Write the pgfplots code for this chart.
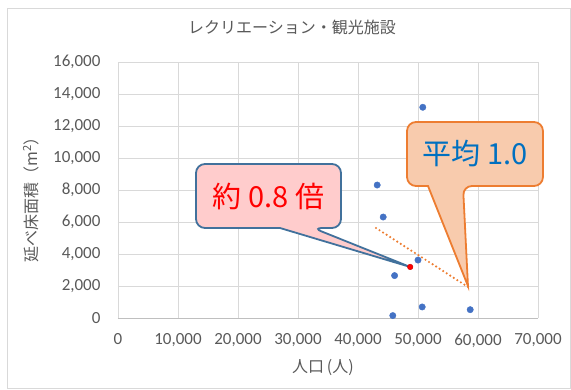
\documentclass[border=0pt]{standalone}
\usepackage{fontspec}
\setmainfont{Carlito}
\newfontfamily\jp{Noto Sans CJK JP}
\usepackage{pgfplots}
\pgfplotsset{compat=1.18}
\definecolor{gridc}{HTML}{D9D9D9}
\definecolor{axc}{HTML}{BFBFBF}
\definecolor{tickc}{HTML}{595959}
\definecolor{blu}{HTML}{4472C4}
\definecolor{org}{HTML}{ED7D31}
\definecolor{boxAf}{HTML}{FFCCCC}
\definecolor{boxAd}{HTML}{41719C}
\definecolor{boxBf}{HTML}{F8CBAD}
\definecolor{txtB}{HTML}{0070C0}
\begin{document}
\begin{tikzpicture}[x=1pt,y=1pt]
\useasboundingbox (-118,-72) rectangle (453,318);
\draw[draw=gridc, line width=0.8pt] (-111,-70) rectangle (452,310);
\node[font=\jp\fontsize{16}{16}\selectfont, text=tickc] at (174,291) {レクリエーション・観光施設};
\node[font=\jp\fontsize{16}{16}\selectfont, text=tickc, rotate=90] at (-87,122) {延べ床面積（m\textsuperscript{2}）};
\node[font=\jp\fontsize{16}{16}\selectfont, text=tickc, anchor=west, inner sep=0pt] at (174,-50) {人口\,(人)};
\begin{axis}[
  at={(0,0)}, anchor=south west, scale only axis,
  width=420pt, height=256pt,
  xmin=0, xmax=70000, ymin=0, ymax=16000,
  xtick={0,10000,...,70000}, ytick={0,2000,...,16000},
  scaled ticks=false,
  /pgf/number format/1000 sep={,},
  /pgf/number format/assume math mode=true,
  grid=major, major grid style={draw=gridc, line width=0.8pt},
  axis line style={draw=none}, tick style={draw=none},
  ticklabel style={font=\fontsize{17}{17}\selectfont, text=tickc},
  xticklabel style={yshift=-12pt},
  yticklabel style={xshift=-14pt},
  clip=false,
]
\draw[axc, line width=0.8pt] (axis cs:0,0) -- (axis cs:70000,0);
\addplot[only marks, mark=*, mark size=3.2pt, mark options={fill=blu, draw=blu}] coordinates {
  (50800,13170) (43200,8310) (44200,6310) (50000,3620) (46100,2650)
  (50700,690) (58700,520) (45800,150)
};
\addplot[org, line width=2.4pt, line cap=round, dash pattern=on 0pt off 4.2pt] coordinates {
  (43000,5625) (58330,1940)
};
\addplot[only marks, mark=*, mark size=2.8pt, mark options={fill=red, draw=red!80!black}] coordinates {
  (48700,3190)
};
% callout A
\draw[draw=boxAd, fill=boxAf, line width=1.8pt]
  (axis cs:27000,5625) [rounded corners=9pt] -- (axis cs:13000,5625) -- (axis cs:13000,9625)
  -- (axis cs:37170,9625) -- (axis cs:37170,5625) -- (axis cs:32500,5625) [sharp corners]
  -- (axis cs:48700,3190) -- cycle;
\node[font=\jp\fontsize{29}{29}\selectfont, text=red] at (axis cs:25085,7625) {約 0.8 倍};
% callout B
\draw[draw=org, fill=boxBf, line width=1.8pt]
  (axis cs:51670,8250) [rounded corners=9pt] -- (axis cs:48170,8250) -- (axis cs:48170,12250)
  -- (axis cs:70830,12250) -- (axis cs:70830,8250) -- (axis cs:57500,8250) [sharp corners]
  -- (axis cs:58330,2000) -- cycle;
\node[font=\jp\fontsize{29}{29}\selectfont, text=txtB] at (axis cs:59500,10250) {平均 1.0};
\end{axis}
\end{tikzpicture}
\end{document}
